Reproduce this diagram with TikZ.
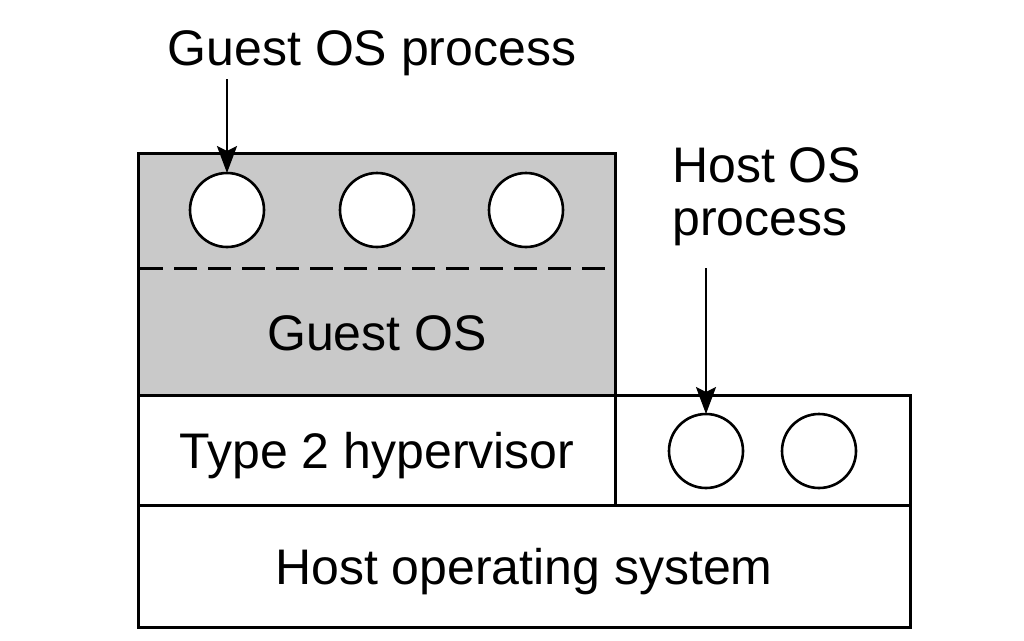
\documentclass[tikz,border=0pt]{standalone}
\usepackage{fontspec}
\setmainfont{Liberation Sans}
\usetikzlibrary{arrows.meta}
\definecolor{guestgray}{RGB}{201,201,201}
\begin{document}
\begin{tikzpicture}[x=1pt,y=-1pt,
  box/.style={draw, line width=3pt, rectangle, inner sep=0pt, outer sep=0pt, anchor=north west},
  proc/.style={draw, line width=2.6pt, circle, fill=white, minimum size=74pt, inner sep=0pt, outer sep=0pt},
  lbl/.style={font=\fontsize{50}{53}\selectfont, inner sep=0pt, anchor=base},
  pointer/.style={line width=2.4pt, -{Stealth[length=27pt,width=20pt,inset=5pt]}},
  divider/.style={line width=3pt, dash pattern=on 23pt off 11pt}
]
\useasboundingbox (0,0) rectangle (1024,640);
\fill[white] (0,0) rectangle (1024,640);

% boxes
\node[box, fill=guestgray, minimum width=477pt, minimum height=242pt] (guest) at (138,153) {};
\node[box, minimum width=477pt, minimum height=110pt] (hyp) at (138,395) {};
\node[box, minimum width=295pt, minimum height=110pt] (hostproc) at (615,395) {};
\node[box, minimum width=772pt, minimum height=122pt] (hostos) at (138,505) {};

% dashed divider in guest box
\coordinate (dl) at (140,268);
\coordinate (dr) at (614,268);
\draw[divider] (dl) -- (dr);

% processes
\node[proc] (g1) at (227,210) {};
\node[proc] (g2) at (377,210) {};
\node[proc] (g3) at (526,210) {};
\node[proc] (h1) at (706,451) {};
\node[proc] (h2) at (819,451) {};

% labels
\node[lbl] (glabel) at (372,65) {Guest OS process};
\node[lbl, anchor=base west] (hl1) at (672,182) {Host OS};
\node[lbl, anchor=base west] (hl2) at (672,235) {process};
\node[lbl] (gos) at (377,350) {Guest OS};
\node[lbl] (t2) at (377,468) {Type 2 hypervisor};
\node[lbl] (hos) at (524,584) {Host operating system};

% arrows
\coordinate (ga) at (227,79);
\coordinate (ha) at (706,268);
\draw[pointer] (ga) -- (g1.north);
\draw[pointer] (ha) -- (h1.north);
\end{tikzpicture}
\end{document}
